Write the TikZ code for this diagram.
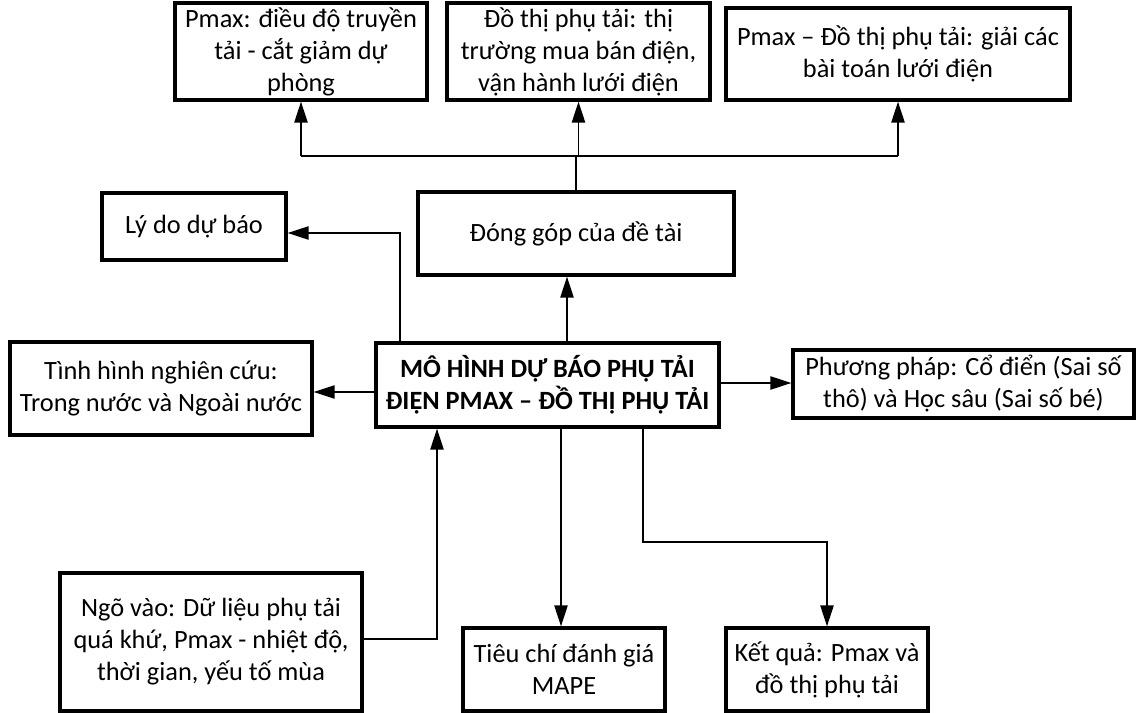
\documentclass[tikz,border=0pt]{standalone}
\usepackage{fontspec}
\setmainfont{Carlito}
\usetikzlibrary{arrows.meta}
\begin{document}
\begin{tikzpicture}[x=0.02cm,y=-0.02cm,
    box/.style={draw,line width=1.8pt,align=center,inner sep=0pt,
      font=\fontsize{15}{18.2}\selectfont},
    arr/.style={-{Triangle[length=12pt,width=7.5pt]}},
    every path/.style={line width=1.1pt}]
  \useasboundingbox (0,0) rectangle (1137,713);
  % top row
  \node[box,minimum width=252*0.02cm,minimum height=97*0.02cm] (pmaxA) at (301,51.5)
    {Pmax: điều độ truyền\\tải - cắt giảm dự\\phòng};
  \node[box,minimum width=263*0.02cm,minimum height=97*0.02cm] (dothi) at (578.5,51.5)
    {Đồ thị phụ tải: thị\\trường mua bán điện,\\vận hành lưới điện};
  \node[box,minimum width=344*0.02cm,minimum height=92*0.02cm] (giaibt) at (898,54)
    {Pmax – Đồ thị phụ tải: giải các\\bài toán lưới điện};
  % middle
  \node[box,minimum width=316*0.02cm,minimum height=83*0.02cm] (donggop) at (576,233.5)
    {Đóng góp của đề tài};
  \node[box,minimum width=184*0.02cm,minimum height=67*0.02cm] (lydo) at (194,226.5)
    {Lý do dự báo};
  \node[box,minimum width=302*0.02cm,minimum height=93*0.02cm] (tinhhinh) at (161,388.5)
    {Tình hình nghiên cứu:\\Trong nước và Ngoài nước};
  \node[box,minimum width=343*0.02cm,minimum height=84*0.02cm,font=\fontsize{15}{18.2}\selectfont\bfseries] (mohinh) at (547.5,385)
    {MÔ HÌNH DỰ BÁO PHỤ TẢI\\ĐIỆN PMAX – ĐỒ THỊ PHỤ TẢI};
  \node[box,minimum width=341*0.02cm,minimum height=68*0.02cm] (phuongphap) at (963.5,384)
    {Phương pháp: Cổ điển (Sai số\\thô) và Học sâu (Sai số bé)};
  % bottom row
  \node[box,minimum width=302*0.02cm,minimum height=138*0.02cm] (ngovao) at (211,642)
    {Ngõ vào: Dữ liệu phụ tải\\quá khứ, Pmax - nhiệt độ,\\thời gian, yếu tố mùa};
  \node[box,minimum width=202*0.02cm,minimum height=83*0.02cm] (tieuchi) at (564,669.5)
    {Tiêu chí đánh giá\\MAPE};
  \node[box,minimum width=202*0.02cm,minimum height=83*0.02cm] (ketqua) at (827,669.5)
    {Kết quả: Pmax và\\đồ thị phụ tải};
  % connectors
  \coordinate (bus) at (0,156);
  \draw (donggop.north) -- (bus -| donggop.north);
  \draw (bus -| pmaxA) -- (bus -| giaibt);
  \begin{scope}[arr]
    \draw (bus -| pmaxA) to (pmaxA.south);
    \draw (bus -| dothi) to (dothi.south);
    \draw (bus -| giaibt) to (giaibt.south);
    \draw (mohinh.north -| 567,0) to (donggop.south -| 567,0);
    \draw (mohinh.north -| 400,0) |- (lydo.east |- 0,233);
    \draw (mohinh.west |- 0,392) to (tinhhinh.east |- 0,392);
    \draw (mohinh.east |- 0,383) to (phuongphap.west |- 0,383);
    \draw (ngovao.east |- 0,639) -| (mohinh.south -| 437,0);
    \draw (mohinh.south -| 561,0) to (tieuchi.north -| 561,0);
    \draw (mohinh.south -| 643,0) |- (ketqua.north |- 0,542) to (ketqua.north);
  \end{scope}
\end{tikzpicture}
\end{document}
